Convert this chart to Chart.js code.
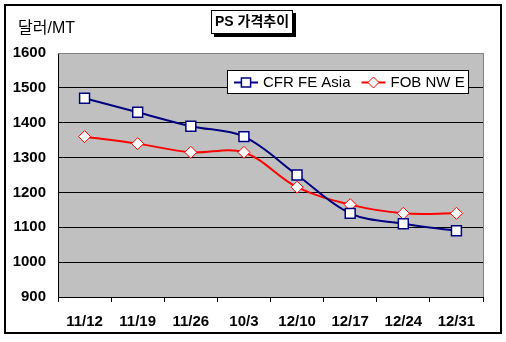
<!DOCTYPE html>
<html>
<head>
<meta charset="utf-8" />
<title>PS 가격추이</title>
<style>
    html, body {
        margin: 0;
        padding: 0;
        background: #fff;
    }

    #chartBox {
        width: 506px;
        height: 342px;
    }
</style>
</head>
<body>
<div id="chartBox">
    <canvas id="psChart" width="506" height="342"></canvas>
</div>

<script src="https://cdn.jsdelivr.net/npm/chart.js"></script>
<script>
    // weekly price, USD per metric ton
    const weeks = ['11/12', '11/19', '11/26', '10/3', '12/10', '12/17', '12/24', '12/31'];
    const cfrFeAsia = [1470, 1430, 1390, 1360, 1250, 1140, 1110, 1090];
    const fobNwe = [1360, 1340, 1315, 1315, 1215, 1165, 1140, 1140];
    const yTicks = [900, 1000, 1100, 1200, 1300, 1400, 1500, 1600];

    const chartTitle = 'PS 가격추이';
    const unitLabel = '달러/MT';

    const FONT = "'Liberation Sans', Arial, 'Noto Sans CJK KR', sans-serif";

    // background, frame, title box, unit label and legend box
    const decor = {
        id: 'decor',
        beforeDraw(chart) {
            const { ctx, chartArea: a } = chart;
            ctx.save();
            ctx.fillStyle = '#fff';
            ctx.fillRect(0, 0, chart.width, chart.height);
            ctx.fillStyle = '#c0c0c0';
            ctx.fillRect(a.left, a.top, a.right - a.left, a.bottom - a.top);
            ctx.restore();
        },
        beforeDatasetsDraw(chart) {
            const { ctx, chartArea: a } = chart;
            ctx.save();
            ctx.strokeStyle = '#808080';
            ctx.lineWidth = 1;
            ctx.beginPath();
            ctx.moveTo(a.left, a.top + 0.5);
            ctx.lineTo(a.right + 0.5, a.top + 0.5);
            ctx.lineTo(a.right + 0.5, a.bottom);
            ctx.stroke();
            ctx.restore();
        },
        afterDraw(chart) {
            const { ctx } = chart;
            ctx.save();

            // outer frame
            ctx.strokeStyle = '#000';
            ctx.lineWidth = 2;
            ctx.strokeRect(5, 5, 496, 328);

            // title with shadowed box
            ctx.fillStyle = '#000';
            ctx.fillRect(214, 13, 82, 24);
            ctx.fillStyle = '#fff';
            ctx.fillRect(211, 10, 82, 24);
            ctx.lineWidth = 1;
            ctx.strokeRect(211.5, 10.5, 81, 23);
            ctx.fillStyle = '#000';
            ctx.font = 'bold 14px ' + FONT;
            ctx.textAlign = 'center';
            ctx.textBaseline = 'middle';
            ctx.fillText(chartTitle, 252, 22);

            // unit label
            ctx.font = '16px ' + FONT;
            ctx.textAlign = 'left';
            ctx.fillText(unitLabel, 18, 29);

            // legend
            const bx = 227, by = 70, bw = 241, bh = 23;
            ctx.fillStyle = '#fff';
            ctx.fillRect(bx, by, bw, bh);
            ctx.strokeStyle = '#000';
            ctx.strokeRect(bx + 0.5, by + 0.5, bw, bh);
            ctx.font = '15px ' + FONT;
            ctx.textBaseline = 'middle';
            const cy = by + bh / 2 + 1;
            let x = bx + 7;
            chart.data.datasets.forEach(ds => {
                ctx.strokeStyle = ds.borderColor;
                ctx.lineWidth = 2;
                ctx.beginPath();
                ctx.moveTo(x, cy);
                ctx.lineTo(x + 24, cy);
                ctx.stroke();
                ctx.lineWidth = ds.pointBorderWidth;
                ctx.fillStyle = '#fff';
                Chart.helpers.drawPoint(ctx, {
                    pointStyle: ds.pointStyle,
                    radius: ds.pointRadius - 0.5,
                    borderWidth: ds.pointBorderWidth
                }, x + 12, cy);
                ctx.fillStyle = '#000';
                ctx.fillText(ds.label, x + 29, cy);
                x += 29 + ctx.measureText(ds.label).width + 11;
            });

            ctx.restore();
        }
    };

    const ctx = document.getElementById('psChart').getContext('2d');
    const chart = new Chart(ctx, {
        type: 'line',
        data: {
            labels: weeks,
            datasets: [{
                label: 'CFR FE Asia',
                data: cfrFeAsia,
                borderColor: '#000080',
                borderWidth: 2,
                tension: 0.35,
                pointStyle: 'rect',
                pointRadius: 7,
                pointBackgroundColor: '#fff',
                pointBorderColor: '#000080',
                pointBorderWidth: 1.5
            }, {
                label: 'FOB NW E',
                data: fobNwe,
                borderColor: '#ff0000',
                borderWidth: 2,
                tension: 0.35,
                pointStyle: 'rectRot',
                pointRadius: 6,
                pointBackgroundColor: '#fff',
                pointBorderColor: '#ff0000',
                pointBorderWidth: 1
            }]
        },
        options: {
            responsive: false,
            animation: false,
            devicePixelRatio: 1,
            layout: {
                padding: { left: 0, top: 53, right: 23, bottom: 0 }
            },
            plugins: {
                legend: { display: false },
                title: { display: false },
                tooltip: { enabled: false }
            },
            scales: {
                x: {
                    offset: true,
                    grid: {
                        offset: true,
                        drawOnChartArea: false,
                        drawTicks: true,
                        tickLength: 5,
                        color: '#000'
                    },
                    border: { color: '#000', width: 1 },
                    ticks: {
                        color: '#000',
                        maxRotation: 0,
                        autoSkip: false,
                        padding: 11,
                        font: { family: FONT, size: 15, weight: 'bold' }
                    },
                    afterFit(scale) {
                        scale.height = 45;
                    }
                },
                y: {
                    min: 900,
                    max: 1600,
                    afterBuildTicks(scale) {
                        scale.ticks = yTicks.map(v => ({ value: v }));
                    },
                    grid: {
                        drawTicks: false,
                        color: c => (c.tick && c.tick.value === 1600 ? '#808080' : '#000'),
                        lineWidth: 1
                    },
                    border: { color: '#000', width: 1 },
                    ticks: {
                        color: '#000',
                        padding: 12,
                        font: { family: FONT, size: 15, weight: 'bold' },
                        callback: v => String(v)
                    },
                    afterFit(scale) {
                        scale.width = 58;
                    }
                }
            }
        },
        plugins: [decor]
    });
</script>
</body>
</html>
